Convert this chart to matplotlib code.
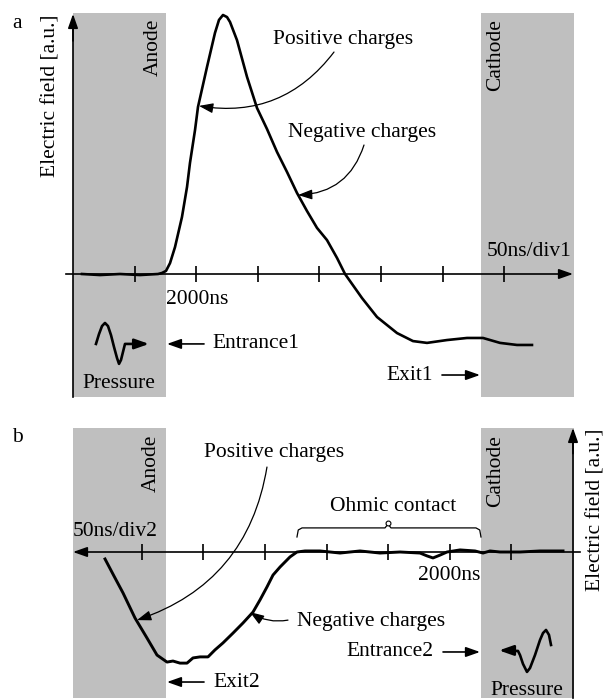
import numpy as np
import matplotlib.pyplot as plt
from matplotlib.patches import Rectangle

plt.rcParams['font.family'] = ['Liberation Serif', 'DejaVu Serif']

# time in divisions (50 ns/div), field in arbitrary units
tick_divs = [1, 2, 3, 4, 5, 6, 7]

time_a = [0.146, 0.438, 0.763, 1.088, 1.380, 1.445, 1.510, 1.575, 1.656, 1.769,
          1.851, 1.899, 1.981, 2.029, 2.175, 2.305, 2.370, 2.435, 2.500, 2.549,
          2.662, 2.825, 2.987, 3.149, 3.312, 3.474, 3.636, 3.799, 3.961, 4.123,
          4.286, 4.416, 4.692, 4.935, 5.260, 5.519, 5.747, 6.071, 6.396, 6.656,
          6.932, 7.208, 7.451]
field_a = [0.000, -0.004, 0.000, -0.004, 0.000, 0.004, 0.012, 0.042, 0.104, 0.220,
           0.336, 0.429, 0.556, 0.645, 0.799, 0.931, 0.981, 1.000, 0.992, 0.973,
           0.903, 0.761, 0.641, 0.560, 0.471, 0.394, 0.313, 0.243, 0.178, 0.131,
           0.062, 0.000, -0.093, -0.166, -0.228, -0.259, -0.266, -0.255, -0.247, -0.247,
           -0.266, -0.274, -0.274]

time_b = [7.597, 7.451, 7.305, 7.110, 6.916, 6.753, 6.591, 6.494, 6.380, 6.266,
          6.169, 6.055, 5.925, 5.812, 5.682, 5.519, 5.357, 5.195, 5.081, 4.968,
          4.870, 4.756, 4.594, 4.481, 4.351, 4.107, 3.782, 3.458, 3.133, 2.808,
          2.484, 2.370, 2.273, 2.159, 2.045, 1.834, 1.591, 1.461, 1.347, 1.185,
          0.860, 0.536, 0.162]
field_b = [-0.027, -0.093, -0.158, -0.255, -0.332, -0.398, -0.425, -0.421, -0.429, -0.429,
           -0.409, -0.405, -0.405, -0.378, -0.351, -0.313, -0.274, -0.232, -0.185, -0.135,
           -0.089, -0.058, -0.019, 0.000, 0.004, 0.004, -0.004, 0.004, -0.004, 0.000,
           -0.004, -0.015, -0.023, -0.012, 0.000, 0.008, 0.004, -0.004, 0.004, 0.000,
           0.000, 0.004, 0.004]

FS = 15.5
GRAY = '#bfbfbf'
head = '-|>,head_length=0.85,head_width=0.3'


def arrow(ax, tip, start, rad=0.0, lw=1.2):
    ax.annotate('', xy=tip, xytext=start,
                arrowprops=dict(arrowstyle=head, color='k', lw=lw,
                                shrinkA=0, shrinkB=0,
                                connectionstyle='arc3,rad=%g' % rad))


fig = plt.figure(figsize=(6.06, 6.99), dpi=100)

# ---------------- panel a ----------------
ax = fig.add_axes([0, 1 - 400 / 699, 1, 400 / 699])
ax.set_xlim(-73 / 61.6, (606 - 73) / 61.6)
ax.set_ylim((274 - 400) / 259, 274 / 259)
ax.axis('off')

ax.add_patch(Rectangle((0, -0.475), 1.51, 1.483, color=GRAY, lw=0, zorder=0))
ax.add_patch(Rectangle((6.623, -0.475), 1.51, 1.483, color=GRAY, lw=0, zorder=0))

ax.plot([0, 0], [-0.475, 0.95], color='k', lw=1.2)
arrow(ax, (0, 1.004), (0, 0.9))
ax.plot([-0.114, 8.0], [0, 0], color='k', lw=1.2)
arrow(ax, (8.117, 0), (7.9, 0))
ax.vlines(tick_divs, -0.029, 0.029, color='k', lw=1.2)

ax.plot(time_a, field_a, color='k', lw=1.9, solid_joinstyle='round')

ax.text(-0.909, 0.969, 'a', fontsize=FS, ha='center', va='center')
ax.text(-0.357, 0.687, 'Electric field [a.u.]', fontsize=FS, rotation=90,
        ha='center', va='center')
ax.text(1.30, 0.985, 'Anode', fontsize=FS, rotation=90, ha='center', va='top')
ax.text(6.867, 0.985, 'Cathode', fontsize=FS, rotation=90, ha='center', va='top')
ax.text(1.51, -0.097, '2000ns', fontsize=FS, ha='left', va='center')
ax.text(8.084, 0.085, '50ns/div1', fontsize=FS, ha='right', va='center')

ax.text(4.383, 0.905, 'Positive charges', fontsize=FS, ha='center', va='center')
arrow(ax, (2.045, 0.649), (4.237, 0.857), rad=-0.3, lw=0.9)
ax.text(4.692, 0.548, 'Negative charges', fontsize=FS, ha='center', va='center')
arrow(ax, (3.653, 0.305), (4.724, 0.498), rad=-0.35, lw=0.9)

# pressure pulse symbol
ax.plot([0.373, 0.422, 0.471, 0.519, 0.568, 0.617, 0.666, 0.714, 0.747, 0.779, 0.844, 1.05],
        [-0.270, -0.232, -0.201, -0.189, -0.201, -0.236, -0.282, -0.324, -0.347, -0.332, -0.270, -0.270],
        color='k', lw=1.9, solid_joinstyle='round')
arrow(ax, (1.234, -0.270), (1.0, -0.270), lw=1.9)
ax.text(0.747, -0.421, 'Pressure', fontsize=FS, ha='center', va='center')

arrow(ax, (1.526, -0.270), (2.127, -0.270))
ax.text(2.256, -0.270, 'Entrance1', fontsize=FS, ha='left', va='center')
arrow(ax, (6.607, -0.390), (5.990, -0.390))
ax.text(5.850, -0.390, 'Exit1', fontsize=FS, ha='right', va='center')

# ---------------- panel b ----------------
bx = fig.add_axes([0, 0, 1, 299 / 699])
bx.set_xlim(573 / 61.6, (573 - 606) / 61.6)
bx.set_ylim((552 - 699) / 259, (552 - 400) / 259)
bx.axis('off')

bx.add_patch(Rectangle((6.607, -0.565), 1.51, 1.044, color=GRAY, lw=0, zorder=0))
bx.add_patch(Rectangle((-0.016, -0.565), 1.51, 1.044, color=GRAY, lw=0, zorder=0))

bx.plot([0, 0], [-0.565, 0.42], color='k', lw=1.2)
arrow(bx, (0, 0.479), (0, 0.38))
bx.plot([-0.114, 8.0], [0, 0], color='k', lw=1.2)
arrow(bx, (8.117, 0), (7.9, 0))
bx.vlines(tick_divs, -0.029, 0.029, color='k', lw=1.2)

bx.plot(time_b, field_b, color='k', lw=2.1, solid_joinstyle='round')

bx.text(9.026, 0.444, 'b', fontsize=FS, ha='center', va='center')
bx.text(-0.373, 0.162, 'Electric field [a.u.]', fontsize=FS, rotation=90,
        ha='center', va='center')
bx.text(6.851, 0.452, 'Anode', fontsize=FS, rotation=90, ha='center', va='top')
bx.text(1.25, 0.452, 'Cathode', fontsize=FS, rotation=90, ha='center', va='top')
bx.text(8.117, 0.081, '50ns/div2', fontsize=FS, ha='left', va='center')
bx.text(1.510, -0.089, '2000ns', fontsize=FS, ha='right', va='center')

bx.text(4.854, 0.386, 'Positive charges', fontsize=FS, ha='center', va='center')
arrow(bx, (7.078, -0.263), (4.968, 0.328), rad=-0.3, lw=0.9)
bx.text(3.279, -0.270, 'Negative charges', fontsize=FS, ha='center', va='center')
arrow(bx, (5.244, -0.232), (4.627, -0.263), rad=-0.2, lw=0.9)

# ohmic contact brace
bx.plot([4.481, 4.460, 4.399, 3.052, 3.003, 2.955, 1.575, 1.514, 1.494],
        [0.058, 0.085, 0.093, 0.093, 0.108, 0.093, 0.093, 0.085, 0.058],
        color='k', lw=0.9)
bx.plot([3.003], [0.112], marker='o', ms=3.5, mfc='white', mec='k', mew=0.8)
bx.text(2.922, 0.174, 'Ohmic contact', fontsize=FS, ha='center', va='center')

# pressure pulse symbol
bx.plot([1.0, 0.893, 0.860, 0.812, 0.747, 0.698, 0.617, 0.536, 0.487, 0.438, 0.390, 0.357],
        [-0.382, -0.382, -0.398, -0.432, -0.463, -0.448, -0.398, -0.340, -0.313, -0.301, -0.320, -0.359],
        color='k', lw=1.9, solid_joinstyle='round')
arrow(bx, (1.201, -0.380), (0.95, -0.380), lw=1.9)
bx.text(0.747, -0.533, 'Pressure', fontsize=FS, ha='center', va='center')

arrow(bx, (1.510, -0.386), (2.110, -0.386))
bx.text(2.273, -0.386, 'Entrance2', fontsize=FS, ha='right', va='center')
arrow(bx, (6.591, -0.502), (5.990, -0.502))
bx.text(5.844, -0.502, 'Exit2', fontsize=FS, ha='left', va='center')

fig.savefig('out.png', dpi=100)
